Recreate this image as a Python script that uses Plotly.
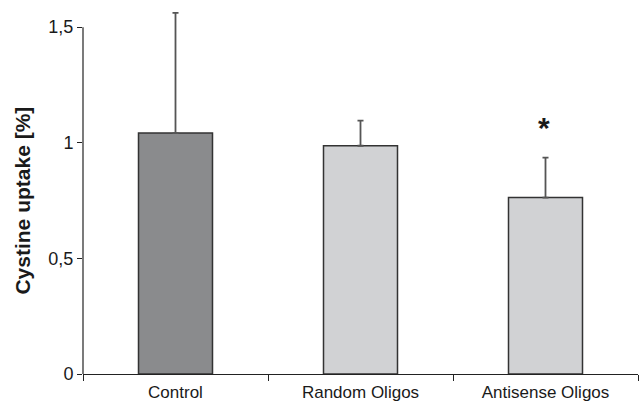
import plotly.graph_objects as go

categories = ["Control", "Random Oligos", "Antisense Oligos"]
means = [1.042, 0.987, 0.763]
err_plus = [0.52, 0.109, 0.173]
bar_colors = ["#8a8b8d", "#d1d2d4", "#d1d2d4"]
ytick_vals = [0, 0.5, 1, 1.5]
ytick_text = ["0", "0,5", "1", "1,5"]
y_title = "Cystine uptake [%]"
star_label = "*"
star_value = 1.09

fig = go.Figure()
fig.add_trace(go.Bar(
    x=categories, y=means, width=0.4,
    marker=dict(color=bar_colors, line=dict(color="#333333", width=1.5)),
    error_y=dict(type="data", array=err_plus, arrayminus=[0, 0, 0], symmetric=False,
                 color="#555555", thickness=1.8, width=3),
    showlegend=False,
))
fig.add_annotation(x=categories[2], y=star_value, text="<b>" + star_label + "</b>", showarrow=False,
                   font=dict(size=30, color="#1a1a1a", family="Liberation Sans"), yshift=-6, xshift=-2)
# y axis line only spanning 0..1.5
fig.add_shape(type="line", xref="paper", yref="y", x0=0, x1=0, y0=0, y1=1.5,
              line=dict(color="#222222", width=1.2))
# y axis title centered on the drawn axis line
fig.add_annotation(xref="paper", yref="y", x=0, y=0.75, xshift=-60, xanchor="center", yanchor="middle",
                   text="<b>" + y_title + "</b>",
                   textangle=-90, showarrow=False, font=dict(size=21, color="#1a1a1a"))

fig.update_layout(
    width=641, height=401,
    margin=dict(l=83, r=3, t=4, b=27),
    plot_bgcolor="white", paper_bgcolor="white",
    font=dict(family="Liberation Sans, Arial, sans-serif", color="#1a1a1a", size=17),
    xaxis=dict(type="category", tickson="boundaries", ticks="outside", ticklen=6,
               tickcolor="#222222", showline=True, linecolor="#222222", linewidth=1.2,
               showgrid=False, tickfont=dict(size=17), range=[-0.5, 2.5], automargin=False,
               ticklabelstandoff=2),
    yaxis=dict(range=[0, 1.6], tickvals=ytick_vals, ticktext=ytick_text, ticks="outside",
               ticklen=5, tickcolor="#222222", showline=False, showgrid=False, zeroline=False,
               tickfont=dict(size=18), automargin=False),
    bargap=0.6,
)
fig.write_html("out.html", post_script="document.body.style.margin='0';",
               config={"displayModeBar": False})
